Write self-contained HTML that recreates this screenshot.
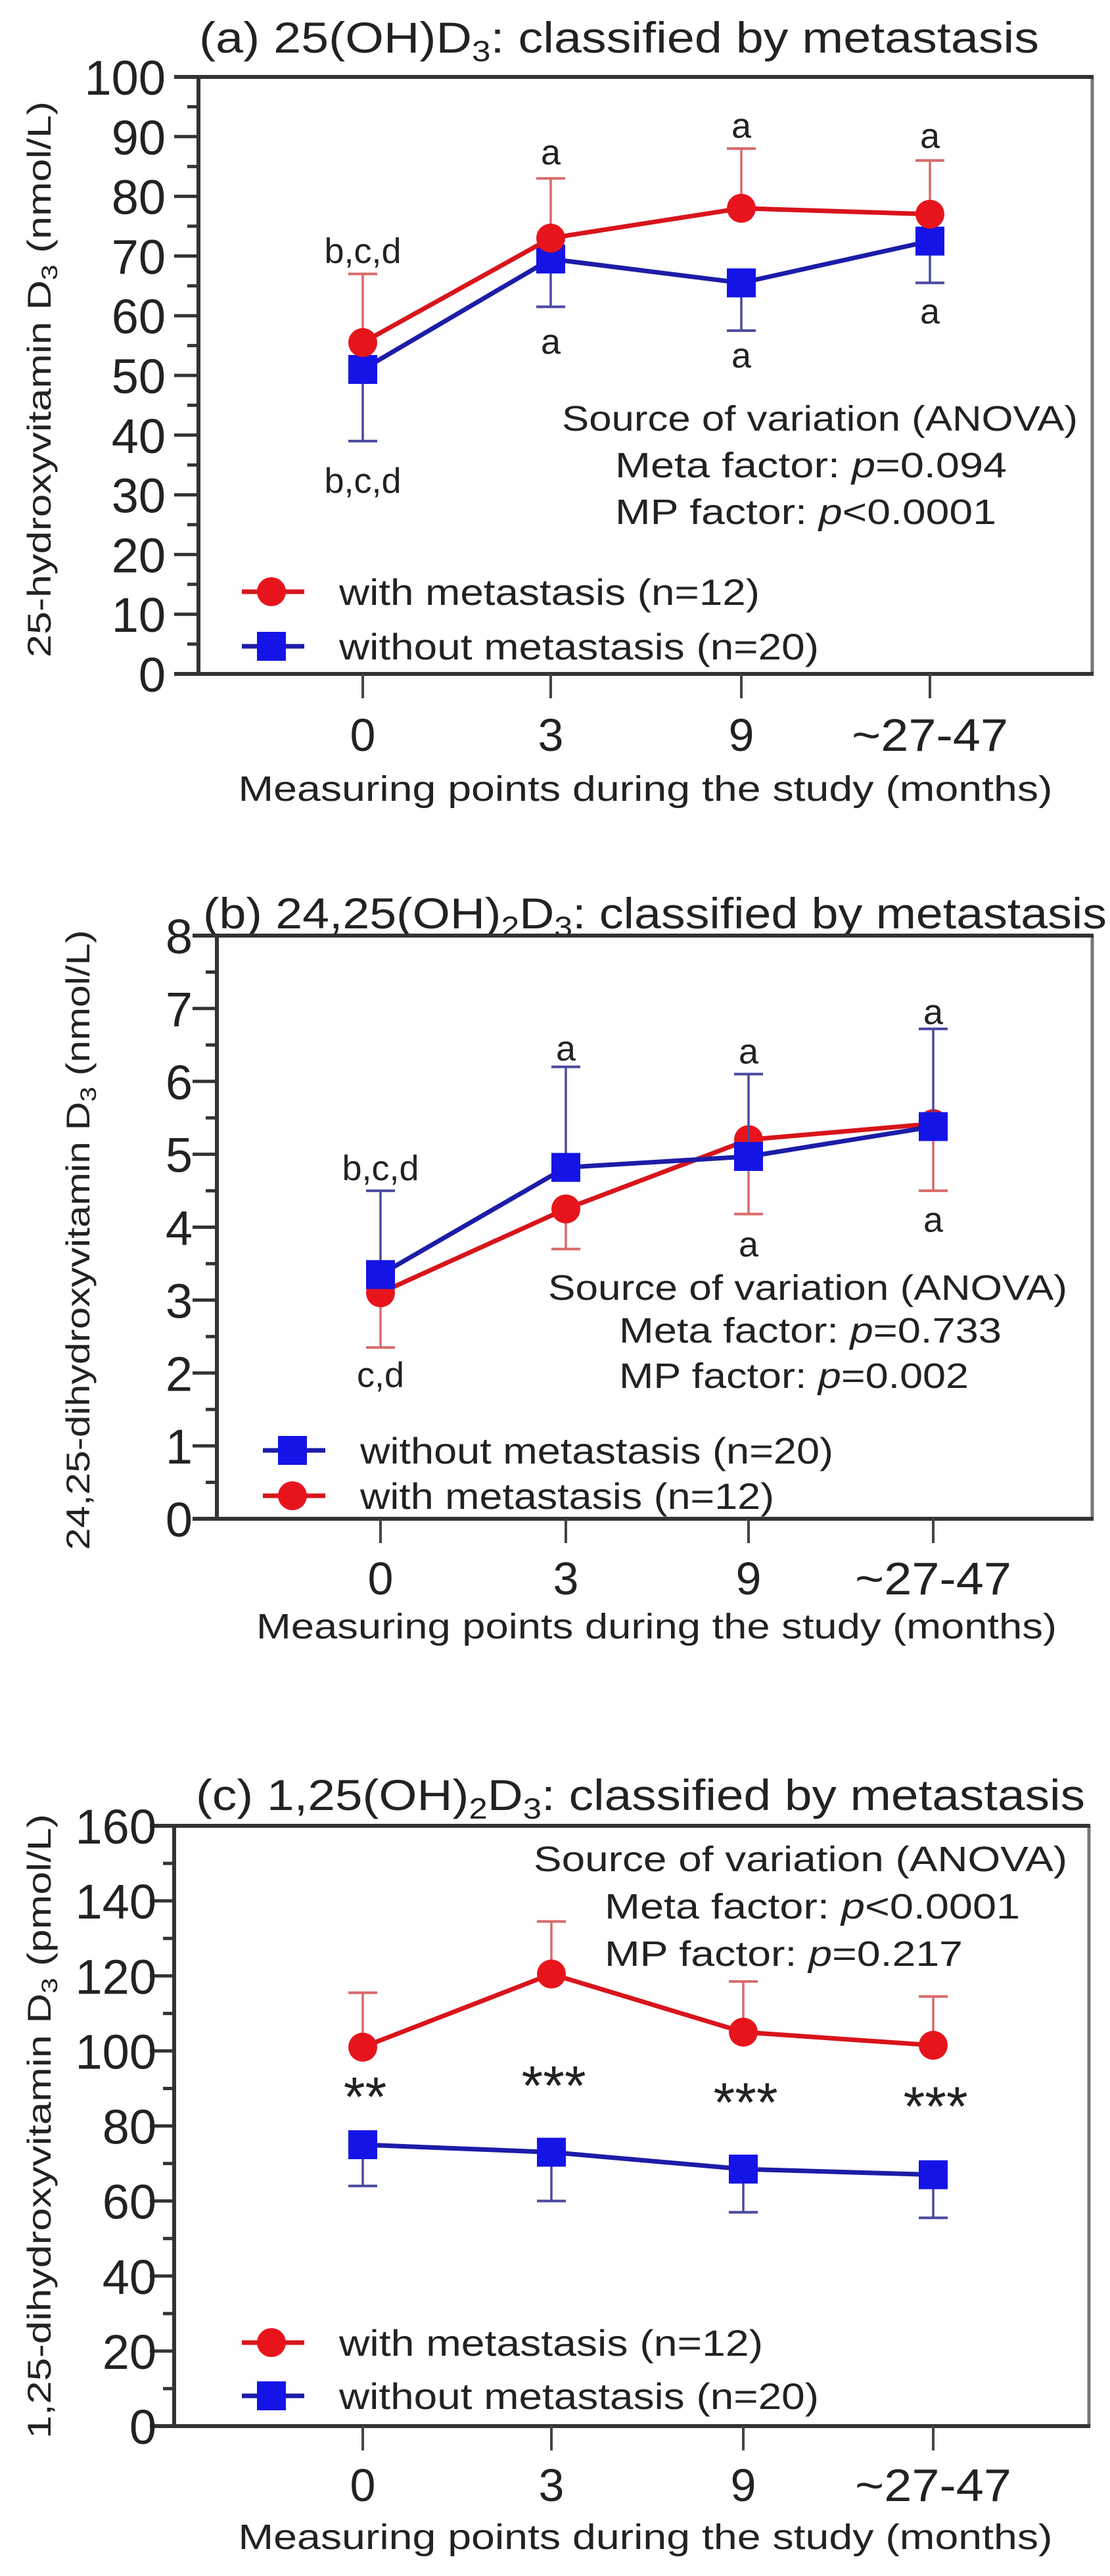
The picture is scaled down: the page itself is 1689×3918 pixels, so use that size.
<!DOCTYPE html>
<html><head><meta charset="utf-8"><style>
html,body{margin:0;padding:0;background:#fff;}
svg{display:block;font-family:"Liberation Sans",Arial,sans-serif;}
</style></head><body>
<svg id="fig" width="1689" height="3918" viewBox="0 0 1689 3918" xmlns="http://www.w3.org/2000/svg"></svg>
<script>
// ---------- data ----------
var categories = ["0", "3", "9", "~27-47"];
// panel a: 25(OH)D3 (nmol/L)
var aRed = [55.5, 73, 78, 77];
var aRedErr = [67, 83, 88, 86];
var aBlue = [51, 69.5, 65.5, 72.5];
var aBlueErr = [39, 61.5, 57.5, 65.5];
var aTicks = ["0","10","20","30","40","50","60","70","80","90","100"];
var aLabelsAbove = ["b,c,d", "a", "a", "a"];
var aLabelsAboveY = [70.7, 87.2, 91.7, 90];
var aLabelsBelow = ["b,c,d", "a", "a", "a"];
var aLabelsBelowY = [32.2, 55.5, 53.2, 60.6];
// panel b: 24,25(OH)2D3 (nmol/L)
var bBlue = [3.35, 4.82, 4.97, 5.38];
var bBlueErr = [4.5, 6.2, 6.1, 6.72];
var bRed = [3.1, 4.25, 5.2, 5.42];
var bRedErr = [2.35, 3.7, 4.18, 4.5];
var bTicks = ["0","1","2","3","4","5","6","7","8"];
var bLabelsAbove = ["b,c,d", "a", "a", "a"];
var bLabelsAboveY = [4.8, 6.44, 6.4, 6.94];
var bLabelsBelow = ["c,d", "", "a", "a"];
var bLabelsBelowY = [1.96, 0, 3.75, 4.09];
// panel c: 1,25(OH)2D3 (pmol/L)
var cRed = [101, 120.5, 105, 101.5];
var cRedErr = [115.5, 134.5, 118.5, 114.5];
var cBlue = [75, 73, 68.5, 67];
var cBlueErr = [64, 60, 57, 55.5];
var cTicks = ["0","20","40","60","80","100","120","140","160"];
var cStars = ["**", "***", "***", "***"];
var cStarsY = [89, 92, 87.5, 86.5];

// ---------- helpers ----------
var NS = "http://www.w3.org/2000/svg";
var svg = document.getElementById("fig");
function mk(tag, attrs, parent, name) {
  var el = document.createElementNS(NS, tag);
  for (var k in attrs) el.setAttribute(k, attrs[k]);
  
  
  (parent || svg).appendChild(el);
  return el;
}
function txt(parent, name, x, y, parts, size, anchor, len, extra) {
  var a = {x: x, y: y, "font-size": size, "text-anchor": anchor || "start", fill: "#222"};
  if (len) { a.textLength = len; a.lengthAdjust = "spacingAndGlyphs"; }
  if (extra) for (var k in extra) a[k] = extra[k];
  var t = mk("text", a, parent, name);
  if (typeof parts === "string") parts = [[parts]];
  parts.forEach(function (p) {
    var ts = document.createElementNS(NS, "tspan");
    ts.textContent = p[0];
    if (p[1] === "sub") { ts.setAttribute("font-size", size * 0.68); ts.setAttribute("dy", size * 0.2); }
    if (p[1] === "back") { ts.setAttribute("dy", -size * 0.2); }
    if (p[1] === "it") { ts.setAttribute("font-style", "italic"); }
    t.appendChild(ts);
  });
  return t;
}

var RED = "#e8141c", REDERR = "#d86a6a", BLUE = "#1414e6", BLUEERR = "#4a4aa0", LINEB = "#1c1ca8", LINER = "#d8141c";

function panel(P) {
  var g = mk("g", {}, svg, P.id);
  function X(i) { return P.xs[i]; }
  function Y(v) { return P.y0 - (v / P.max) * (P.y0 - P.yTop); }
  txt(g, "chart-title", P.titleX, P.titleY, P.title, 66, "start", P.titleLen);
  mk("line", {x1: P.right, y1: P.yTop, x2: P.right, y2: P.y0, stroke: "#777", "stroke-width": 5}, g, "plot-frame-right");
  mk("line", {x1: P.left - 37, y1: P.yTop, x2: P.right + 2, y2: P.yTop, stroke: "#333", "stroke-width": 6}, g, "plot-frame-top");
  mk("line", {x1: P.left, y1: P.yTop, x2: P.left, y2: P.y0, stroke: "#333", "stroke-width": 6}, g, "y-axis-line");
  mk("line", {x1: P.left - 37, y1: P.y0, x2: P.right + 2, y2: P.y0, stroke: "#333", "stroke-width": 6}, g, "x-axis-line");
  var n = P.ticks.length - 1;
  for (var i = 0; i <= n; i++) {
    var v = P.max * i / n, yy = Y(v);
    mk("line", {x1: P.left - 37, y1: yy, x2: P.left, y2: yy, stroke: "#333", "stroke-width": 5}, g, "y-tick");
    if (i < n) {
      var ym = Y(v + P.max / n / 2);
      mk("line", {x1: P.left - 17, y1: ym, x2: P.left, y2: ym, stroke: "#333", "stroke-width": 5}, g, "y-minor-tick");
    }
    txt(g, "y-tick-label", P.tickRight, yy + 27, P.ticks[i], 74, "end", null);
  }
  categories.forEach(function (c, i) {
    mk("line", {x1: X(i), y1: P.y0, x2: X(i), y2: P.y0 + 37, stroke: "#444", "stroke-width": 4}, g, "x-tick");
    txt(g, "x-tick-label", X(i), P.xLabY + 25, c, 70, "middle", c.length > 1 ? 238 : null);
  });
  txt(g, "x-axis-title", P.xTitleX, P.xTitleY + 18, "Measuring points during the study (months)", 54, "middle", P.xTitleLen);
  txt(g, "y-axis-title", 0, 0, P.yTitle, 50, "middle", P.yTitleLen,
      {transform: "translate(" + (P.yTitleX + 17) + "," + P.yTitleY + ") rotate(-90)"});
  P.anova.forEach(function (l, i) {
    txt(g, "anova-text", l.x, l.y + 18, l.t, 54, "start", l.w);
  });
  function series(vals, errs, colr, errc, linec, shape, sname) {
    var sg = mk("g", {}, g, sname);
    vals.forEach(function (v, i) {
      mk("line", {x1: X(i), y1: Y(v), x2: X(i), y2: Y(errs[i]), stroke: errc, "stroke-width": 3.5}, sg, "error-bar");
      mk("line", {x1: X(i) - 22, y1: Y(errs[i]), x2: X(i) + 22, y2: Y(errs[i]), stroke: errc, "stroke-width": 4}, sg, "error-cap");
    });
    var pts = vals.map(function (v, i) { return X(i) + "," + Y(v); }).join(" ");
    mk("polyline", {points: pts, fill: "none", stroke: linec, "stroke-width": 7}, sg, "series-line");
    vals.forEach(function (v, i) {
      if (shape === "circle") mk("circle", {cx: X(i), cy: Y(v), r: 22, fill: colr}, sg, "point");
      else mk("rect", {x: X(i) - 22, y: Y(v) - 22, width: 44, height: 44, fill: colr}, sg, "point");
    });
  }
  P.order.forEach(function (s) {
    if (s === "red") series(P.red, P.redErr, RED, REDERR, LINER, "circle", "series-with-metastasis");
    else series(P.blue, P.blueErr, BLUE, BLUEERR, LINEB, "square", "series-without-metastasis");
  });
  if (P.above) P.above.forEach(function (s, i) { if (s) txt(g, "significance-label", X(i), Y(P.aboveY[i]) + 17, s, 54, "middle"); });
  if (P.below) P.below.forEach(function (s, i) { if (s) txt(g, "significance-label", X(i), Y(P.belowY[i]) + 17, s, 54, "middle"); });
  if (P.stars) P.stars.forEach(function (s, i) { txt(g, "significance-stars", X(i), Y(P.starsY[i]) + 36, s, 84, "middle", null, {"font-style": "italic"}); });
  P.legend.forEach(function (L) {
    var lg = mk("g", {}, g, "legend-entry");
    var col = L.s === "red" ? LINER : LINEB;
    mk("line", {x1: P.legX, y1: L.y, x2: P.legX + 95, y2: L.y, stroke: col, "stroke-width": 7}, lg, "legend-line");
    var cx = P.legX + 45;
    if (L.s === "red") mk("circle", {cx: cx, cy: L.y, r: 22, fill: RED}, lg, "legend-marker");
    else mk("rect", {x: cx - 22, y: L.y - 22, width: 44, height: 44, fill: BLUE}, lg, "legend-marker");
    txt(lg, "legend-label", P.legX + 148, L.y + 20, L.t, 56, "start", L.w);
  });
}

panel({
  id: "panel-a", title: [["(a) 25(OH)D"], ["3", "sub"], [": classified by metastasis", "back"]],
  titleX: 303, titleY: 80, titleLen: 1278,
  left: 302, right: 1662, yTop: 117, y0: 1025, max: 100, ticks: aTicks, tickRight: 252,
  xs: [552, 838, 1128, 1415], xLabY: 1117, xTitleX: 982, xTitleY: 1200, xTitleLen: 1239,
  yTitle: [["25-hydroxyvitamin D"], ["3", "sub"], [" (nmol/L)", "back"]], yTitleX: 60, yTitleY: 577, yTitleLen: 846,
  anova: [{x: 855, y: 637, t: "Source of variation (ANOVA)", w: 785},
          {x: 936, y: 708, t: [["Meta factor: "], ["p", "it"], ["=0.094"]], w: 596},
          {x: 936, y: 779, t: [["MP factor: "], ["p", "it"], ["<0.0001"]], w: 580}],
  red: aRed, redErr: aRedErr, blue: aBlue, blueErr: aBlueErr, order: ["blue", "red"],
  above: aLabelsAbove, aboveY: aLabelsAboveY, below: aLabelsBelow, belowY: aLabelsBelowY,
  legX: 368, legend: [{s: "red", y: 900, t: "with metastasis (n=12)", w: 640}, {s: "blue", y: 983, t: "without metastasis (n=20)", w: 730}]
});

panel({
  id: "panel-b", title: [["(b) 24,25(OH)"], ["2", "sub"], ["D", "back"], ["3", "sub"], [": classified by metastasis", "back"]],
  titleX: 309, titleY: 1412, titleLen: 1375,
  left: 330, right: 1662, yTop: 1423, y0: 2310, max: 8, ticks: bTicks, tickRight: 293,
  xs: [579, 861, 1139, 1420], xLabY: 2400, xTitleX: 999, xTitleY: 2474, xTitleLen: 1218,
  yTitle: [["24,25-dihydroxyvitamin D"], ["3", "sub"], [" (nmol/L)", "back"]], yTitleX: 119, yTitleY: 1886, yTitleLen: 943,
  anova: [{x: 834, y: 1959, t: "Source of variation (ANOVA)", w: 790},
          {x: 942, y: 2024, t: [["Meta factor: "], ["p", "it"], ["=0.733"]], w: 582},
          {x: 942, y: 2093, t: [["MP factor: "], ["p", "it"], ["=0.002"]], w: 532}],
  red: bRed, redErr: bRedErr, blue: bBlue, blueErr: bBlueErr, order: ["red", "blue"],
  above: bLabelsAbove, aboveY: bLabelsAboveY, below: bLabelsBelow, belowY: bLabelsBelowY,
  legX: 400, legend: [{s: "blue", y: 2206, t: "without metastasis (n=20)", w: 720}, {s: "red", y: 2275, t: "with metastasis (n=12)", w: 630}]
});

panel({
  id: "panel-c", title: [["(c) 1,25(OH)"], ["2", "sub"], ["D", "back"], ["3", "sub"], [": classified by metastasis", "back"]],
  titleX: 298, titleY: 2753, titleLen: 1353,
  left: 265, right: 1657, yTop: 2777, y0: 3690, max: 160, ticks: cTicks, tickRight: 238,
  xs: [552, 839, 1131, 1420], xLabY: 3779, xTitleX: 982, xTitleY: 3859, xTitleLen: 1239,
  yTitle: [["1,25-dihydroxyvitamin D"], ["3", "sub"], [" (pmol/L)", "back"]], yTitleX: 60, yTitleY: 3234, yTitleLen: 950,
  anova: [{x: 812, y: 2828, t: "Source of variation (ANOVA)", w: 812},
          {x: 920, y: 2900, t: [["Meta factor: "], ["p", "it"], ["<0.0001"]], w: 632},
          {x: 920, y: 2972, t: [["MP factor: "], ["p", "it"], ["=0.217"]], w: 545}],
  red: cRed, redErr: cRedErr, blue: cBlue, blueErr: cBlueErr, order: ["red", "blue"],
  stars: cStars, starsY: cStarsY,
  legX: 368, legend: [{s: "red", y: 3563, t: "with metastasis (n=12)", w: 645}, {s: "blue", y: 3644, t: "without metastasis (n=20)", w: 730}]
});
</script>
</body></html>
